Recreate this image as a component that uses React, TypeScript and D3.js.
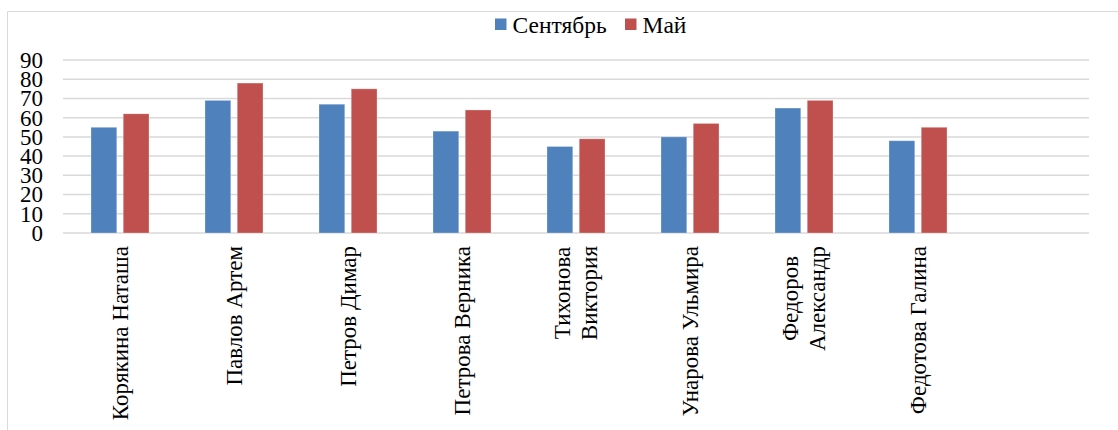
import React from "react";
import * as d3 from "d3";

const categories: string[][] = [
  ["Корякина Наташа"],
  ["Павлов Артем"],
  ["Петров Димар"],
  ["Петрова Верника"],
  ["Тихонова", "Виктория"],
  ["Унарова Ульмира"],
  ["Федоров", "Александр"],
  ["Федотова Галина"],
];
const seriesNames = ["Сентябрь", "Май"];
const september = [55, 69, 67, 53, 45, 50, 65, 48];
const may = [62, 78, 75, 64, 49, 57, 69, 55];
const colors = ["#4f81bd", "#c0504d"];
const yTicks = [0, 10, 20, 30, 40, 50, 60, 70, 80, 90];
const slotCount = 9; // the category axis holds one empty slot at the end

const W = 1118;
const H = 430;
const BASE = 36; // text is laid out at this size, then scaled down
const K = 23 / BASE;
const KL = 23.5 / BASE;
const ASC_MINUS_DESC = (0.891 - 0.216) / 2; // Liberation Serif baseline offset factor

const plot = { left: 63, right: 1089, top: 60, bottom: 233 };
const x = d3
  .scaleBand<number>()
  .domain(d3.range(slotCount))
  .range([plot.left, plot.right])
  .paddingInner(0.491)
  .paddingOuter(0.2455);
const xs = d3
  .scaleBand<number>()
  .domain([0, 1])
  .range([0, x.bandwidth()])
  .paddingInner(0.2);
const y = d3.scaleLinear().domain([0, 90]).range([plot.bottom, plot.top]);

const baseDiv: React.CSSProperties = {
  position: "absolute",
  left: 0,
  top: 0,
  whiteSpace: "nowrap",
  width: "max-content",
  fontFamily: '"Liberation Serif"',
  fontSize: `${BASE}px`,
  color: "#000",
  transformOrigin: "0 0",
  margin: 0,
  padding: 0,
};

// place a text block so that its anchor point on the (middle) baseline lands at (bx, by)
function Label(props: {
  lines: string[];
  bx: number;
  by: number;
  anchor: "start" | "end";
  scale: number;
  rotate?: number;
  lineStep?: number; // screen px between lines
}) {
  const { lines, bx, by, anchor, scale, rotate = 0, lineStep = 27 } = props;
  const n = lines.length;
  const LH = n > 1 ? lineStep / scale : BASE;
  const b0 = LH / 2 + ASC_MINUS_DESC * BASE;
  const ay = b0 + ((n - 1) / 2) * LH;
  const ax = anchor === "end" ? "-100%" : "0px";
  return (
    <div
      style={{
        ...baseDiv,
        lineHeight: `${LH}px`,
        textAlign: "center",
        transform: `translate(${bx}px, ${by}px) rotate(${rotate}deg) scale(${scale}) translate(${ax}, ${-ay}px)`,
      }}
    >
      {lines.map((ln, i) => (
        <div key={i}>{ln}</div>
      ))}
    </div>
  );
}

export default function App() {
  const series = [september, may];
  const labelTop = 246;

  return (
    <svg
      width={W}
      height={H}
      style={{ position: "absolute", left: 0, top: 0, background: "#fff", overflow: "hidden" }}
    >
      <path d={`M7.5,${H} V11.5 H${W}`} fill="none" stroke="#d9d9d9" strokeWidth={1} />

      <g>
        {yTicks.map((t) => (
          <line
            key={t}
            x1={plot.left}
            x2={plot.right}
            y1={y(t)}
            y2={y(t)}
            stroke="#d9d9d9"
            strokeWidth={1.5}
          />
        ))}
      </g>

      {series.map((vals, si) => (
        <g key={si}>
          {vals.map((v, i) => (
            <rect
              key={i}
              x={(x(i) as number) + (xs(si) as number)}
              width={xs.bandwidth()}
              y={y(v)}
              height={y(0) - y(v)}
              fill={colors[si]}
              stroke="#ffffff"
              strokeOpacity={0.35}
              strokeWidth={0.8}
            />
          ))}
        </g>
      ))}

      {seriesNames.map((name, i) => {
        const sx = [495, 625][i];
        return <rect key={name} x={sx} y={18.5} width={11.5} height={11.5} fill={colors[i]} />;
      })}

      <foreignObject x={0} y={0} width={W} height={H}>
        <div style={{ position: "relative", width: W, height: H, overflow: "hidden" }}>
          {yTicks.map((t) => (
            <Label key={"y" + t} lines={[String(t)]} bx={43} by={y(t) + 8} anchor="end" scale={K} />
          ))}

          {categories.map((lines, i) => {
            const cx = (x(i) as number) + x.bandwidth() / 2;
            return (
              <Label
                key={"c" + i}
                lines={lines}
                bx={cx + 8}
                by={labelTop}
                anchor="end"
                scale={K}
                rotate={-90}
              />
            );
          })}

          {seriesNames.map((name, i) => {
            const sx = [495, 625][i];
            return <Label key={name} lines={[name]} bx={sx + 17.5} by={33} anchor="start" scale={KL} />;
          })}
        </div>
      </foreignObject>
    </svg>
  );
}
